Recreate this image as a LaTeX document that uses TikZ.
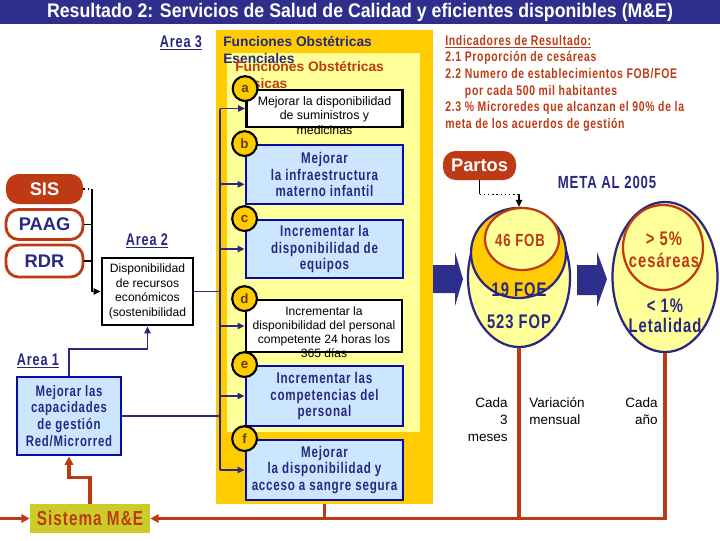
\documentclass[tikz,border=0pt]{standalone}
\usepackage{fontspec}
\setmainfont{Liberation Sans}
\newfontfamily\narrowfont[FakeStretch=0.75,LetterSpace=5]{Liberation Sans}
\newfontfamily\titlefont[FakeStretch=0.9]{Liberation Sans}
\usetikzlibrary{positioning,arrows.meta,shapes.geometric}

\definecolor{barblue}{RGB}{46,46,140}
\definecolor{navy}{RGB}{40,40,130}
\definecolor{rustred}{RGB}{190,58,20}
\definecolor{gold}{RGB}{255,204,0}
\definecolor{paleyellow}{RGB}{255,255,153}
\definecolor{paleblue}{RGB}{204,230,255}
\definecolor{boxblue}{RGB}{10,10,170}
\definecolor{olive}{RGB}{204,204,40}
\definecolor{letterbrown}{RGB}{100,60,0}

\tikzset{
  bluebox/.style={draw=boxblue, fill=paleblue, line width=2pt, minimum width=3.925cm,
    text=navy, font=\narrowfont\bfseries\fontsize{11}{11.7}\selectfont, align=center, inner sep=0pt},
  whitebox/.style={draw=black, fill=white, line width=2pt, minimum width=3.9cm, inner sep=0pt},
  smalltext/.style={font=\fontsize{8.8}{10.3}\selectfont, align=center, inner sep=0pt},
  letterdot/.style={circle, draw=black, fill=gold, line width=1.5pt, minimum size=0.62cm,
    inner sep=0pt, text=letterbrown, font=\bfseries\fontsize{9.5}{9.5}\selectfont},
  pill/.style={rounded corners=9pt, minimum width=1.925cm, minimum height=0.75cm,
    font=\bfseries\fontsize{13}{13}\selectfont, inner sep=0pt},
  arealabel/.style={text=navy, font=\narrowfont\bfseries\fontsize{12}{12}\selectfont, inner sep=0pt},
  bignum/.style={font=\narrowfont\bfseries\fontsize{14}{16}\selectfont, align=center, inner sep=0pt},
  busline/.style={draw=navy, line width=1.3pt},
  busarrow/.style={busline, -{Triangle[length=5pt,width=4.5pt]}},
  rustline/.style={draw=rustred, line width=2.4pt},
  oval/.style={ellipse, line width=1.6pt, inner sep=0pt},
}

\begin{document}
\begin{tikzpicture}[x=0.025cm, y=-0.025cm]
  \useasboundingbox (0,0) rectangle (720,540);

  % title bar
  \fill[barblue] (0,0) rectangle (720,24);
  \node[text=white, font=\titlefont\bfseries\fontsize{14}{14}\selectfont] (titulo) at (360,12.5)
    {Resultado 2: Servicios de Salud de Calidad y eficientes disponibles (M\&E)};

  % Area 3: the two yellow panels
  \node[fill=gold, minimum width=5.425cm, minimum height=11.85cm, inner sep=0pt] (esenciales) at (324.5,267) {};
  \node[fill=paleyellow, minimum width=4.825cm, minimum height=9.475cm, inner sep=0pt] (basicas) at (323.5,242.5) {};
  \node[anchor=west, text=navy, font=\bfseries\fontsize{9.8}{11.4}\selectfont, align=left, inner sep=0pt]
    (fone) at (223,50) {Funciones Obstétricas\\Esenciales};
  \node[anchor=west, text=rustred, font=\bfseries\fontsize{9.8}{11.4}\selectfont, align=left, inner sep=0pt]
    (fonb) at (235,75) {Funciones Obstétricas\\Basicas};
  \node[arealabel] (area3) at (181,43) {\underline{Area 3}};

  % the six lines of work a--f
  \node[whitebox, minimum height=0.925cm] (boxa) at (324.5,108.5) {};
  \node[smalltext] (texta) at (324.5,115.5) {Mejorar la  disponibilidad\\de suministros  y\\medicinas};
  \node[bluebox, minimum height=1.475cm] (boxb) at (324.5,174.5) {Mejorar\\la  infraestructura\\materno infantil};
  \node[bluebox, minimum height=1.45cm] (boxc) at (324.5,249) {Incrementar la\\disponibilidad de\\equipos};
  \node[whitebox, minimum height=1.3cm] (boxd) at (324,326) {};
  \node[smalltext, font=\fontsize{8.6}{10}\selectfont] (textd) at (324,332)
    {Incrementar la\\disponibilidad del personal\\competente 24 horas los\\365 días};
  \node[bluebox, minimum height=1.5cm] (boxe) at (324.5,396) {Incrementar las\\competencias del\\personal};
  \node[bluebox, minimum height=1.5cm] (boxf) at (324.5,470) {Mejorar\\la  disponibilidad y\\acceso a sangre segura};

  \foreach \b/\l in {boxa/a, boxb/b, boxc/c, boxd/d, boxe/e, boxf/f}
    \node[letterdot] (dot\l) at (\b.north west) {\l};

  % bus feeding a--f
  \coordinate (bus) at (220,0);
  \draw[busline] (bus |- boxa.west) -- (bus |- boxf.west);
  \foreach \b in {boxa, boxc, boxd, boxe, boxf}
    \draw[busarrow] (bus |- \b.west) -- (\b.west);
  \draw[busarrow] (bus |- boxb.187) -- (boxb.187);

  % left column: financing
  \node[pill, fill=rustred, text=white] (sis) at (44.5,189) {SIS};
  \node[pill, draw=rustred, line width=2pt, fill=white, text=navy] (paag) at (44.5,224.5) {PAAG};
  \node[pill, draw=rustred, line width=2pt, fill=white, text=navy, minimum height=0.8cm] (rdr) at (44.5,261) {RDR};

  \node[arealabel] (area2) at (147,241) {\underline{Area 2}};
  \node[whitebox, smalltext, minimum width=2.275cm, minimum height=1.675cm, font=\fontsize{8.6}{10.4}\selectfont]
    (areados) at (147.5,291.5) {Disponibilidad\\de recursos\\económicos\\(sostenibilidad};

  \coordinate (sisjoin) at (92,189);
  \draw[dotted, line width=1.2pt] (sis.east) -- (sisjoin);
  \draw[line width=1.3pt, -{Triangle[length=5pt,width=4.5pt]}] (sisjoin) |- (areados.west);
  \draw[line width=1.3pt] (paag.east) -- (paag.east -| sisjoin);
  \draw[line width=1.3pt] (rdr.east) -- (rdr.east -| sisjoin);
  \draw[busline] (areados.east) -- (areados.east -| bus);

  \node[arealabel] (area1) at (38,361) {\underline{Area 1}};
  \node[bluebox, minimum width=2.6cm, minimum height=1.95cm, font=\narrowfont\bfseries\fontsize{10.8}{11.9}\selectfont]
    (areauno) at (69,416) {Mejorar las\\capacidades\\de gestión\\Red/Microrred};
  \draw[busline] (areauno.east) -- (areauno.east -| bus);
  \draw[busarrow] (areauno.north) -- ++(0,-27) -| (areados.south);

  % monitoring loop
  \node[fill=olive, minimum width=3cm, minimum height=0.725cm, inner sep=0pt, text=rustred,
    font=\narrowfont\bfseries\fontsize{14.5}{14.5}\selectfont] (sistema) at (90,518.5) {Sistema M\&E};
  \draw[rustline, -{Triangle[length=6pt,width=6pt]}] (sistema.north) -- ++(0,-26) -| (areauno.south);
  \coordinate (leftin) at (0,518.5);
  \draw[rustline, -{Triangle[length=6pt,width=6pt]}] (leftin) -- (sistema.west);

  % right column: indicators
  \node[anchor=north west, text=rustred, font=\narrowfont\bfseries\fontsize{9.9}{11.8}\selectfont,
    align=left, inner sep=0pt] (indicadores) at (445,35)
    {\underline{Indicadores de Resultado:}\\
     2.1 Proporción de cesáreas\\
     2.2 Numero de establecimientos FOB/FOE\\
     \hspace*{14pt}por cada 500 mil habitantes\\
     2.3 \% Microredes que alcanzan el 90\% de la\\
     meta de los acuerdos de gestión};

  \node[pill, fill=rustred, text=white, minimum width=1.825cm, minimum height=0.725cm] (partos) at (479.5,165.5) {Partos};
  \node[text=navy, font=\narrowfont\bfseries\fontsize{12.5}{12.5}\selectfont] (meta) at (607,182) {META AL 2005};

  % nested targets
  \node[oval, draw=navy, fill=paleyellow, minimum width=2.55cm, minimum height=3.475cm] (fop) at (519,277.5) {};
  \node[oval, draw=navy, fill=gold, minimum width=2.375cm, minimum height=2.25cm] (foe) at (518.5,253) {};
  \node[oval, draw=rustred, fill=paleyellow, minimum width=1.85cm, minimum height=1.55cm] (fob) at (522,239) {};
  \node[bignum, text=rustred, font=\narrowfont\bfseries\fontsize{12.5}{12.5}\selectfont] (fobtext) at (520,240) {46 FOB};
  \node[bignum, text=navy] (foetext) at (519,290) {19 FOE};
  \node[bignum, text=navy] (foptext) at (519,322) {523 FOP};

  \node[oval, draw=navy, fill=paleyellow, minimum width=2.625cm, minimum height=3.75cm] (letal) at (665,277) {};
  \node[oval, draw=rustred, fill=paleyellow, minimum width=2cm, minimum height=2.125cm] (ces) at (663,247.5) {};
  \node[bignum, text=rustred, font=\narrowfont\bfseries\fontsize{14}{16}\selectfont] (cestext) at (664,249.5) {> 5\%\\cesáreas};
  \node[bignum, text=navy, font=\narrowfont\bfseries\fontsize{14}{14}\selectfont] (letaltext) at (665,316) {< 1\%\\Letalidad};

  \draw[line width=1.3pt] (partos.south) -- ++(0,14) coordinate (partosturn);
  \draw[dotted, line width=1pt] (partosturn) -- (partosturn -| fop.north);
  \draw[line width=1.3pt, -{Triangle[length=5pt,width=4.5pt]}] (partosturn -| fop.north) -- (fop.north);

  % block arrows
  \fill[barblue] (433,265) -- (455,265) -- (455,252) -- (463,279) -- (455,306) -- (455,293) -- (433,293) -- cycle;
  \fill[barblue] (577,265) -- (597,265) -- (597,252) -- (607,279) -- (597,307) -- (597,295) -- (577,295) -- cycle;

  % reporting periods
  \node[anchor=east, align=right, font=\fontsize{9.6}{12}\selectfont, inner sep=0pt] (cada3) at (508,420) {Cada\\3\\meses};
  \node[anchor=west, align=left, font=\fontsize{9.6}{12}\selectfont, inner sep=0pt] (mensual) at (529,411) {Variación\\mensual};
  \node[anchor=east, align=right, font=\fontsize{9.6}{12}\selectfont, inner sep=0pt] (anual) at (658,411.5) {Cada\\año};

  % return lines into the M&E system
  \draw[rustline] (esenciales.south) -- (esenciales.south |- sistema.east);
  \draw[rustline] (fop.south) -- (fop.south |- sistema.east);
  \draw[rustline, -{Triangle[length=6pt,width=6pt]}] (letal.south) |- (sistema.east);
\end{tikzpicture}
\end{document}
